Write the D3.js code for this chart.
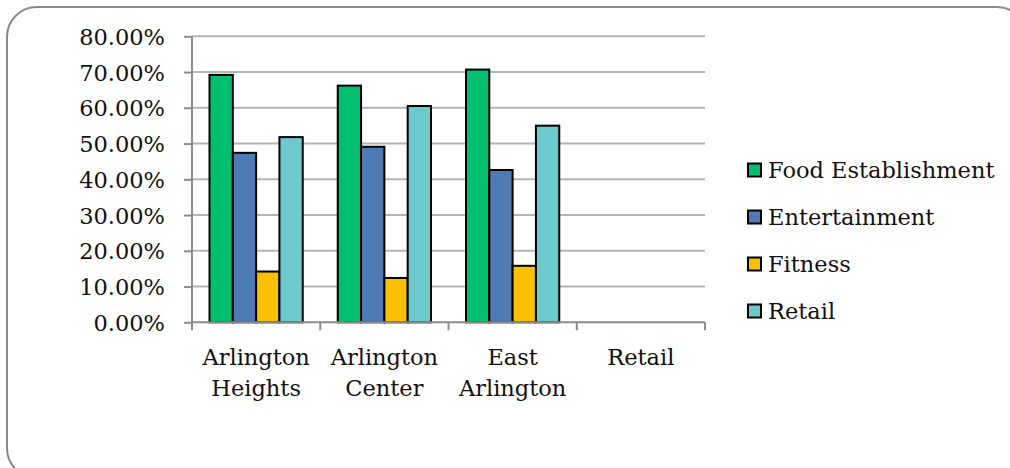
<!DOCTYPE html>
<html>
<head>
<meta charset="utf-8">
<script src="https://cdn.jsdelivr.net/npm/d3@7"></script>
<style>
html,body{margin:0;padding:0;background:#fff;}
svg{display:block;}
text{font-family:"DejaVu Serif",serif;fill:#111;}
</style>
</head>
<body>
<svg id="chart" width="1010" height="468"></svg>
<script>
const categories = [["Arlington","Heights"],["Arlington","Center"],["East","Arlington"],["Retail"]];
const seriesNames = ["Food Establishment","Entertainment","Fitness","Retail"];
const foodEstablishment = [0.692, 0.662, 0.707, null];
const entertainment = [0.474, 0.491, 0.426, null];
const fitness = [0.142, 0.124, 0.158, null];
const retail = [0.518, 0.605, 0.550, null];
const yTicks = [0,0.1,0.2,0.3,0.4,0.5,0.6,0.7,0.8];
const colors = ["#00C06F","#4F7BB5","#F8C000","#6CC9CC"];

const seriesValues = [foodEstablishment, entertainment, fitness, retail];
const FS = "22.5px";

const svg = d3.select("#chart");

// outer rounded frame
svg.append("rect")
  .attr("x",7).attr("y",7).attr("width",1020).attr("height",471)
  .attr("rx",30).attr("ry",30)
  .attr("fill","#fff").attr("stroke","#8a8a8a").attr("stroke-width",2);

const pLeft = 192, pRight = 705, pTop = 36.3, pBottom = 322.3;

const y = d3.scaleLinear().domain([0,0.8]).range([pBottom, pTop]);
const catKeys = categories.map(c => c.join(" "));
const x0 = d3.scaleBand().domain(catKeys).range([pLeft, pRight]).paddingInner(0).paddingOuter(0);
const bw = x0.bandwidth();
const x1 = d3.scaleBand().domain(seriesNames).range([17.5, bw - 17.5]).padding(0);

// gridlines
svg.append("g").selectAll("line")
  .data(yTicks.filter(t => t > 0))
  .join("line")
  .attr("x1", pLeft).attr("x2", pRight)
  .attr("y1", d => y(d)).attr("y2", d => y(d))
  .attr("stroke","#b4b4b4").attr("stroke-width",2);

// y axis
const yAxis = d3.axisLeft(y).tickValues(yTicks).tickFormat(d3.format(".2%")).tickSize(8).tickPadding(19);
const gy = svg.append("g").attr("transform",`translate(${pLeft},0)`).call(yAxis);
gy.select(".domain").attr("stroke","#8c8c8c").attr("stroke-width",2).attr("d",`M0,${pTop}V${pBottom}`);
gy.selectAll(".tick line").attr("stroke","#8c8c8c").attr("stroke-width",2);
gy.selectAll(".tick text").style("font-size",FS).style("font-family","'DejaVu Serif',serif").attr("fill","#111").attr("dy","0.36em");

// bars
const groups = svg.append("g").selectAll("g")
  .data(catKeys)
  .join("g")
  .attr("transform", d => `translate(${x0(d)},0)`);

groups.selectAll("rect")
  .data((d,i) => seriesNames.map((s,j) => ({s, j, v: seriesValues[j][i]})).filter(e => e.v != null))
  .join("rect")
  .attr("x", e => x1(e.s))
  .attr("width", x1.bandwidth())
  .attr("y", e => y(e.v))
  .attr("height", e => pBottom - y(e.v))
  .attr("fill", e => colors[e.j])
  .attr("stroke","#000").attr("stroke-width",2);

// x axis
const xAxis = d3.axisBottom(x0).tickValues([]).tickSizeOuter(0);
const gx = svg.append("g").attr("transform",`translate(0,${pBottom})`).call(xAxis);
gx.select(".domain").attr("stroke","#8c8c8c").attr("stroke-width",2).attr("d",`M${pLeft},0H${pRight}`);
const boundaries = catKeys.map(k => x0(k)).concat([pRight]);
gx.selectAll("line.bound").data(boundaries).join("line").attr("class","bound")
  .attr("x1", d => d).attr("x2", d => d).attr("y1",0).attr("y2",8)
  .attr("stroke","#8c8c8c").attr("stroke-width",2);

// category labels
const lbl = svg.append("g").selectAll("text")
  .data(categories)
  .join("text")
  .attr("x", (d,i) => x0(catKeys[i]) + bw/2)
  .attr("y", 365)
  .attr("text-anchor","middle")
  .style("font-size",FS);
lbl.selectAll("tspan").data(d => d).join("tspan")
  .attr("x", function(){ return this.parentNode.getAttribute("x"); })
  .attr("dy", (d,i) => i === 0 ? 0 : 30.5)
  .text(d => d);

// legend
const leg = svg.append("g").selectAll("g")
  .data(seriesNames)
  .join("g")
  .attr("transform", (d,i) => `translate(747,${170 + i*47})`);
leg.append("rect").attr("x",1).attr("y",-6.5).attr("width",13).attr("height",13)
  .attr("fill",(d,i) => colors[i]).attr("stroke","#000").attr("stroke-width",2);
leg.append("text").attr("x",21).attr("y",0).attr("dy","0.36em")
  .style("font-size",FS).text(d => d);
</script>
</body>
</html>
